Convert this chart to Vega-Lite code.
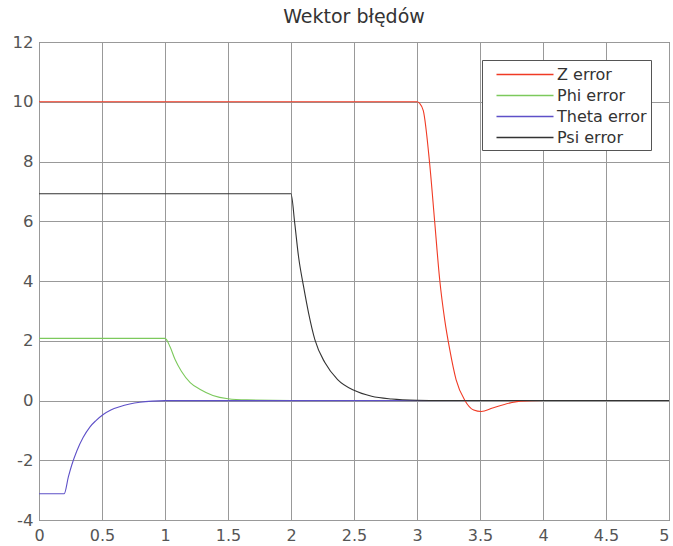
{
  "$schema": "https://vega.github.io/schema/vega-lite/v6.json",
  "autosize": "none",
  "width": 630,
  "height": 478,
  "padding": {"left": 39, "top": 42, "right": 4, "bottom": 26},
  "background": "white",
  "title": {"text": "Wektor błędów", "fontSize": 19, "fontWeight": "normal", "color": "#333", "font": "DejaVu Sans", "anchor": "middle", "offset": 7},
  "config": {
    "view": {"stroke": "#555", "strokeWidth": 1},
    "font": "DejaVu Sans"
  },
  "data": {"values": [
    {"s": "Z error", "x": 0, "y": 10},
    {"s": "Z error", "x": 3.0, "y": 10},
    {"s": "Z error", "x": 3.02, "y": 9.95},
    {"s": "Z error", "x": 3.05, "y": 9.7},
    {"s": "Z error", "x": 3.1, "y": 7.95},
    {"s": "Z error", "x": 3.14, "y": 6.0},
    {"s": "Z error", "x": 3.18, "y": 4.05},
    {"s": "Z error", "x": 3.22, "y": 2.7},
    {"s": "Z error", "x": 3.26, "y": 1.7},
    {"s": "Z error", "x": 3.31, "y": 0.7},
    {"s": "Z error", "x": 3.38, "y": 0.0},
    {"s": "Z error", "x": 3.45, "y": -0.32},
    {"s": "Z error", "x": 3.51, "y": -0.37},
    {"s": "Z error", "x": 3.6, "y": -0.25},
    {"s": "Z error", "x": 3.74, "y": -0.08},
    {"s": "Z error", "x": 3.82, "y": -0.02},
    {"s": "Z error", "x": 4.0, "y": 0},
    {"s": "Z error", "x": 5.0, "y": 0},
    {"s": "Phi error", "x": 0, "y": 2.08},
    {"s": "Phi error", "x": 1.0, "y": 2.08},
    {"s": "Phi error", "x": 1.04, "y": 1.8},
    {"s": "Phi error", "x": 1.08, "y": 1.37},
    {"s": "Phi error", "x": 1.13, "y": 0.98},
    {"s": "Phi error", "x": 1.2, "y": 0.6},
    {"s": "Phi error", "x": 1.28, "y": 0.37},
    {"s": "Phi error", "x": 1.38, "y": 0.17},
    {"s": "Phi error", "x": 1.5, "y": 0.06},
    {"s": "Phi error", "x": 1.65, "y": 0.02},
    {"s": "Phi error", "x": 2.0, "y": 0},
    {"s": "Phi error", "x": 5.0, "y": 0},
    {"s": "Theta error", "x": 0, "y": -3.12},
    {"s": "Theta error", "x": 0.2, "y": -3.12},
    {"s": "Theta error", "x": 0.233, "y": -2.56},
    {"s": "Theta error", "x": 0.26, "y": -2.16},
    {"s": "Theta error", "x": 0.3, "y": -1.69},
    {"s": "Theta error", "x": 0.35, "y": -1.24},
    {"s": "Theta error", "x": 0.405, "y": -0.88},
    {"s": "Theta error", "x": 0.45, "y": -0.68},
    {"s": "Theta error", "x": 0.51, "y": -0.47},
    {"s": "Theta error", "x": 0.57, "y": -0.32},
    {"s": "Theta error", "x": 0.64, "y": -0.21},
    {"s": "Theta error", "x": 0.72, "y": -0.12},
    {"s": "Theta error", "x": 0.8, "y": -0.06},
    {"s": "Theta error", "x": 0.9, "y": -0.02},
    {"s": "Theta error", "x": 1.0, "y": -0.005},
    {"s": "Theta error", "x": 5.0, "y": 0},
    {"s": "Psi error", "x": 0, "y": 6.92},
    {"s": "Psi error", "x": 2.0, "y": 6.92},
    {"s": "Psi error", "x": 2.03, "y": 5.92},
    {"s": "Psi error", "x": 2.06, "y": 4.81},
    {"s": "Psi error", "x": 2.1, "y": 3.81},
    {"s": "Psi error", "x": 2.14, "y": 2.92},
    {"s": "Psi error", "x": 2.19, "y": 2.03},
    {"s": "Psi error", "x": 2.27, "y": 1.26},
    {"s": "Psi error", "x": 2.37, "y": 0.7},
    {"s": "Psi error", "x": 2.5, "y": 0.34},
    {"s": "Psi error", "x": 2.64, "y": 0.14},
    {"s": "Psi error", "x": 2.8, "y": 0.05},
    {"s": "Psi error", "x": 3.0, "y": 0.01},
    {"s": "Psi error", "x": 3.2, "y": 0},
    {"s": "Psi error", "x": 5.0, "y": 0}
  ]},
  "mark": {"type": "line", "strokeWidth": 1.1, "interpolate": "monotone", "clip": true},
  "encoding": {
    "x": {"field": "x", "type": "quantitative",
      "scale": {"domain": [0, 5], "nice": false, "zero": false},
      "axis": {"title": null, "values": [0, 0.5, 1, 1.5, 2, 2.5, 3, 3.5, 4, 4.5, 5], "format": "~g",
        "labelAlign": {"expr": "datum.value >= 5 ? 'right' : 'center'"},
        "grid": true, "gridColor": "#999", "gridWidth": 1, "gridOpacity": 1,
        "domain": false, "ticks": false, "labelPadding": 7, "labelFontSize": 16, "labelColor": "#555",
        "labelFont": "DejaVu Sans", "labelFlush": false, "labelOverlap": false}},
    "y": {"field": "y", "type": "quantitative",
      "scale": {"domain": [-4, 12], "nice": false, "zero": false},
      "axis": {"title": null, "values": [-4, -2, 0, 2, 4, 6, 8, 10, 12],
        "labelExpr": "replace(datum.label, '−', '-')",
        "grid": true, "gridColor": "#999", "gridWidth": 1, "gridOpacity": 1,
        "domain": false, "ticks": false, "labelPadding": 6, "labelFontSize": 16.5, "labelColor": "#555",
        "labelFont": "DejaVu Sans", "labelFlush": false, "labelOverlap": false}},
    "color": {"field": "s", "type": "nominal",
      "scale": {"domain": ["Z error", "Phi error", "Theta error", "Psi error"],
        "range": ["#f03a24", "#7cc95c", "#5e50c8", "#333333"]},
      "legend": {"title": null, "orient": "none", "legendX": 443, "legendY": 18,
        "symbolType": "M-1,0L-1,0.001M0,0L6,0", "symbolSize": 361, "symbolStrokeWidth": 1.5,
        "labelFontSize": 16, "labelColor": "#333", "labelFont": "DejaVu Sans", "labelOffset": 50,
        "rowPadding": 2, "padding": 4, "strokeColor": "#555", "fillColor": "white", "cornerRadius": 0}},
    "order": {"field": "x", "type": "quantitative"}
  }
}
